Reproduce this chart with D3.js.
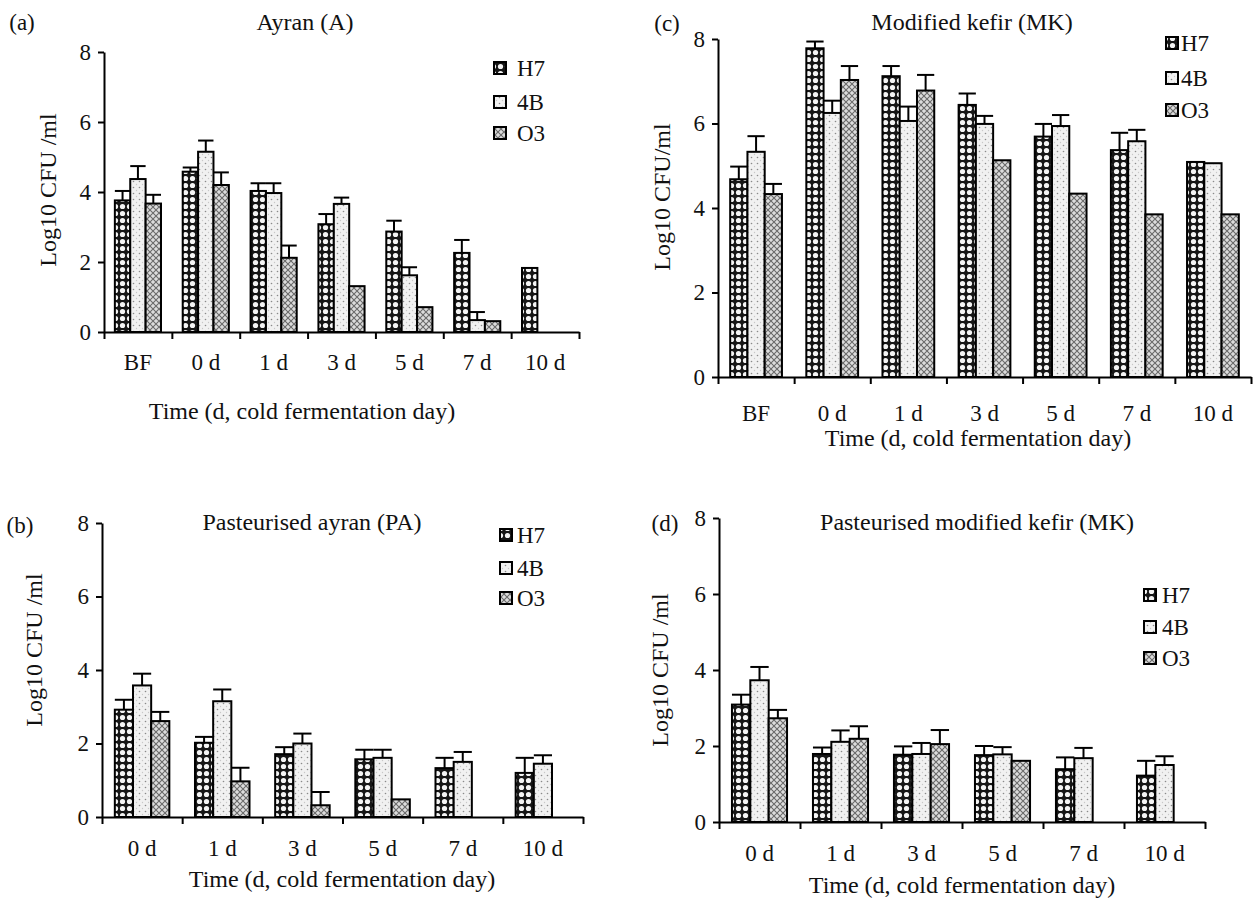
<!DOCTYPE html>
<html>
<head>
<meta charset="utf-8">
<script src="https://cdn.jsdelivr.net/npm/d3@7"></script>
<style>
  body { margin: 0; background: #fff; }
  text { font-family: "Liberation Serif", "Times New Roman", serif; fill: #111; }
</style>
</head>
<body>
<svg id="chart" width="1253" height="900"></svg>
<script>
// Data (log10 CFU/ml, error = upper error bar length)
const series = ["H7", "4B", "O3"];

const catsA = ["BF", "0 d", "1 d", "3 d", "5 d", "7 d", "10 d"];
const aH7 = [3.76, 4.58, 4.03, 3.08, 2.87, 2.26, 1.83];
const a4B = [4.37, 5.15, 3.97, 3.66, 1.62, 0.34, 0];
const aO3 = [3.67, 4.20, 2.12, 1.31, 0.71, 0.31, 0];
const aH7Err = [0.27, 0.12, 0.22, 0.29, 0.31, 0.37, 0];
const a4BErr = [0.37, 0.32, 0.28, 0.18, 0.23, 0.23, 0];
const aO3Err = [0.25, 0.36, 0.35, 0, 0, 0, 0];

const catsB = ["0 d", "1 d", "3 d", "5 d", "7 d", "10 d"];
const bH7 = [2.92, 2.02, 1.71, 1.57, 1.33, 1.20];
const b4B = [3.58, 3.15, 2.00, 1.61, 1.50, 1.45];
const bO3 = [2.61, 0.97, 0.32, 0.48, 0, 0];
const bH7Err = [0.27, 0.16, 0.19, 0.26, 0.28, 0.41];
const b4BErr = [0.32, 0.32, 0.27, 0.22, 0.27, 0.23];
const bO3Err = [0.25, 0.37, 0.36, 0, 0, 0];

const catsC = ["BF", "0 d", "1 d", "3 d", "5 d", "7 d", "10 d"];
const cH7 = [4.68, 7.78, 7.12, 6.44, 5.69, 5.37, 5.09];
const c4B = [5.33, 6.25, 6.06, 5.99, 5.94, 5.58, 5.06];
const cO3 = [4.33, 7.03, 6.78, 5.13, 4.34, 3.85, 3.85];
const cH7Err = [0.30, 0.16, 0.24, 0.27, 0.30, 0.41, 0];
const c4BErr = [0.37, 0.29, 0.34, 0.19, 0.26, 0.27, 0];
const cO3Err = [0.24, 0.33, 0.37, 0, 0, 0, 0];

const catsD = ["0 d", "1 d", "3 d", "5 d", "7 d", "10 d"];
const dH7 = [3.09, 1.79, 1.77, 1.76, 1.39, 1.22];
const d4B = [3.73, 2.11, 1.79, 1.78, 1.68, 1.50];
const dO3 = [2.73, 2.19, 2.05, 1.61, 0, 0];
const dH7Err = [0.26, 0.17, 0.22, 0.24, 0.31, 0.39];
const d4BErr = [0.35, 0.30, 0.29, 0.19, 0.27, 0.23];
const dO3Err = [0.22, 0.33, 0.37, 0, 0, 0];

const yTicks = [0, 2, 4, 6, 8];
const xTitle = "Time (d, cold fermentation day)";

const svg = d3.select("#chart");

// Fill patterns, one for each strain
const defs = svg.append("defs");

const pH7 = defs.append("pattern")
    .attr("id", "pat-H7")
    .attr("patternUnits", "userSpaceOnUse")
    .attr("width", 7).attr("height", 7);
pH7.append("rect").attr("width", 7).attr("height", 7).attr("fill", "#161616");
pH7.append("circle").attr("cx", 3.5).attr("cy", 3.5).attr("r", 2.6).attr("fill", "#f4f4f4");

const p4B = defs.append("pattern")
    .attr("id", "pat-4B")
    .attr("patternUnits", "userSpaceOnUse")
    .attr("width", 6).attr("height", 6);
p4B.append("rect").attr("width", 6).attr("height", 6).attr("fill", "#f1f1f1");
p4B.append("circle").attr("cx", 1.5).attr("cy", 1.5).attr("r", 0.8).attr("fill", "#8a8a8a");
p4B.append("circle").attr("cx", 4.5).attr("cy", 4.5).attr("r", 0.7).attr("fill", "#c8c8c8");

const pO3 = defs.append("pattern")
    .attr("id", "pat-O3")
    .attr("patternUnits", "userSpaceOnUse")
    .attr("width", 6).attr("height", 6);
pO3.append("rect").attr("width", 6).attr("height", 6).attr("fill", "#dcdcdc");
pO3.append("path").attr("d", "M0,0L6,6M6,0L0,6").attr("stroke", "#6a6a6a").attr("stroke-width", 1.1);

const fillOf = s => `url(#pat-${s})`;

// Panel layout (pixel positions)
const panels = [
    {
        tag: "(a)", title: "Ayran (A)", yLabel: "Log10 CFU /ml",
        cats: catsA, values: [aH7, a4B, aO3], errors: [aH7Err, a4BErr, aO3Err],
        left: 104, right: 579, top: 52, bottom: 332, labelY: 362,
        tagPos: [22, 22], titlePos: [305, 22], xTitlePos: [302, 411], yTitlePos: [48, 190],
        legendX: 494, legendTextX: 517, legendY: [68, 102, 133]
    },
    {
        tag: "(b)", title: "Pasteurised ayran (PA)", yLabel: "Log10 CFU /ml",
        cats: catsB, values: [bH7, b4B, bO3], errors: [bH7Err, b4BErr, bO3Err],
        left: 102, right: 583, top: 523, bottom: 817, labelY: 848,
        tagPos: [20, 525], titlePos: [312, 522], xTitlePos: [342, 879], yTitlePos: [34, 650],
        legendX: 500, legendTextX: 517, legendY: [535, 568, 598]
    },
    {
        tag: "(c)", title: "Modified kefir (MK)", yLabel: "Log10 CFU/ml",
        cats: catsC, values: [cH7, c4B, cO3], errors: [cH7Err, c4BErr, cO3Err],
        left: 718, right: 1251, top: 39, bottom: 377, labelY: 413,
        tagPos: [667, 23], titlePos: [972, 22], xTitlePos: [978, 438], yTitlePos: [662, 197],
        legendX: 1166, legendTextX: 1181, legendY: [43, 78, 110]
    },
    {
        tag: "(d)", title: "Pasteurised modified kefir (MK)", yLabel: "Log10 CFU /ml",
        cats: catsD, values: [dH7, d4B, dO3], errors: [dH7Err, d4BErr, dO3Err],
        left: 719, right: 1205, top: 518, bottom: 822, labelY: 853,
        tagPos: [665, 523], titlePos: [977, 522], xTitlePos: [962, 885], yTitlePos: [660, 670],
        legendX: 1144, legendTextX: 1162, legendY: [595, 627, 658]
    }
];

function drawPanel(p) {
    const g = svg.append("g");
    const n = p.cats.length;

    const y = d3.scaleLinear().domain([0, 8]).range([p.bottom, p.top]);
    const x = d3.scaleBand().domain(p.cats).range([p.left, p.right])
        .paddingInner(0.32).paddingOuter(0.16);
    const xs = d3.scaleBand().domain(series).range([0, x.bandwidth()]);
    // boundary ticks between the day groups
    const xEdge = d3.scaleLinear().domain([0, n]).range([p.left, p.right]);

    const rows = [];
    p.cats.forEach((c, i) => {
        series.forEach((s, k) => {
            rows.push({ cat: c, s, v: p.values[k][i], e: p.errors[k][i] });
        });
    });
    const bars = rows.filter(d => d.v > 0);

    // Error bars (upper only) drawn under the bars
    const errs = bars.filter(d => d.e > 0);
    g.append("g").selectAll("line")
        .data(errs)
        .join("line")
        .attr("x1", d => x(d.cat) + xs(d.s) + xs.bandwidth() / 2)
        .attr("x2", d => x(d.cat) + xs(d.s) + xs.bandwidth() / 2)
        .attr("y1", d => y(d.v))
        .attr("y2", d => y(d.v + d.e))
        .attr("stroke", "#000")
        .attr("stroke-width", 2);
    g.append("g").selectAll("line")
        .data(errs)
        .join("line")
        .attr("x1", d => x(d.cat) + xs(d.s))
        .attr("x2", d => x(d.cat) + xs(d.s) + xs.bandwidth())
        .attr("y1", d => y(d.v + d.e))
        .attr("y2", d => y(d.v + d.e))
        .attr("stroke", "#000")
        .attr("stroke-width", 2);

    // Bars
    g.append("g").selectAll("rect")
        .data(bars)
        .join("rect")
        .attr("x", d => x(d.cat) + xs(d.s))
        .attr("y", d => y(d.v))
        .attr("width", xs.bandwidth())
        .attr("height", d => y(0) - y(d.v))
        .attr("fill", d => fillOf(d.s))
        .attr("stroke", "#000")
        .attr("stroke-width", 2);

    // Axes
    const yAxis = g.append("g")
        .attr("transform", `translate(${p.left},0)`)
        .call(d3.axisLeft(y).tickValues(yTicks).tickSize(6).tickSizeOuter(0).tickPadding(7));
    yAxis.selectAll("path, line").attr("stroke", "#000").attr("stroke-width", 2);
    yAxis.selectAll("text").style("font-size", "23px").attr("fill", "#111");

    const xAxis = g.append("g")
        .attr("transform", `translate(0,${p.bottom})`)
        .call(d3.axisBottom(xEdge).tickValues(d3.range(n + 1)).tickFormat("").tickSize(7).tickSizeOuter(0));
    xAxis.selectAll("path, line").attr("stroke", "#000").attr("stroke-width", 2);

    const xLabels = g.append("g")
        .attr("transform", `translate(0,${p.labelY})`)
        .call(d3.axisBottom(x).tickSize(0).tickPadding(0));
    xLabels.select(".domain").remove();
    xLabels.selectAll("text").attr("dy", "0.35em").style("font-size", "23px").attr("fill", "#111");

    // Titles
    g.append("text")
        .attr("x", p.tagPos[0]).attr("y", p.tagPos[1]).attr("dy", "0.35em")
        .attr("text-anchor", "middle")
        .style("font-size", "23px")
        .text(p.tag);

    g.append("text")
        .attr("x", p.titlePos[0]).attr("y", p.titlePos[1]).attr("dy", "0.35em")
        .attr("text-anchor", "middle")
        .style("font-size", "24px")
        .text(p.title);

    g.append("text")
        .attr("x", p.xTitlePos[0]).attr("y", p.xTitlePos[1]).attr("dy", "0.35em")
        .attr("text-anchor", "middle")
        .style("font-size", "24px")
        .text(xTitle);

    g.append("text")
        .attr("transform", `translate(${p.yTitlePos[0]},${p.yTitlePos[1]}) rotate(-90)`)
        .attr("dy", "0.35em")
        .attr("text-anchor", "middle")
        .style("font-size", "24px")
        .text(p.yLabel);

    // Legend
    const legend = g.append("g");
    legend.selectAll("rect")
        .data(series)
        .join("rect")
        .attr("x", p.legendX)
        .attr("y", (d, i) => p.legendY[i] - 6)
        .attr("width", 12)
        .attr("height", 12)
        .attr("fill", d => fillOf(d))
        .attr("stroke", "#000")
        .attr("stroke-width", 2);
    legend.selectAll("text")
        .data(series)
        .join("text")
        .attr("x", p.legendTextX)
        .attr("y", (d, i) => p.legendY[i])
        .attr("dy", "0.35em")
        .style("font-size", "23px")
        .text(d => d);
}

panels.forEach(drawPanel);
</script>
</body>
</html>
